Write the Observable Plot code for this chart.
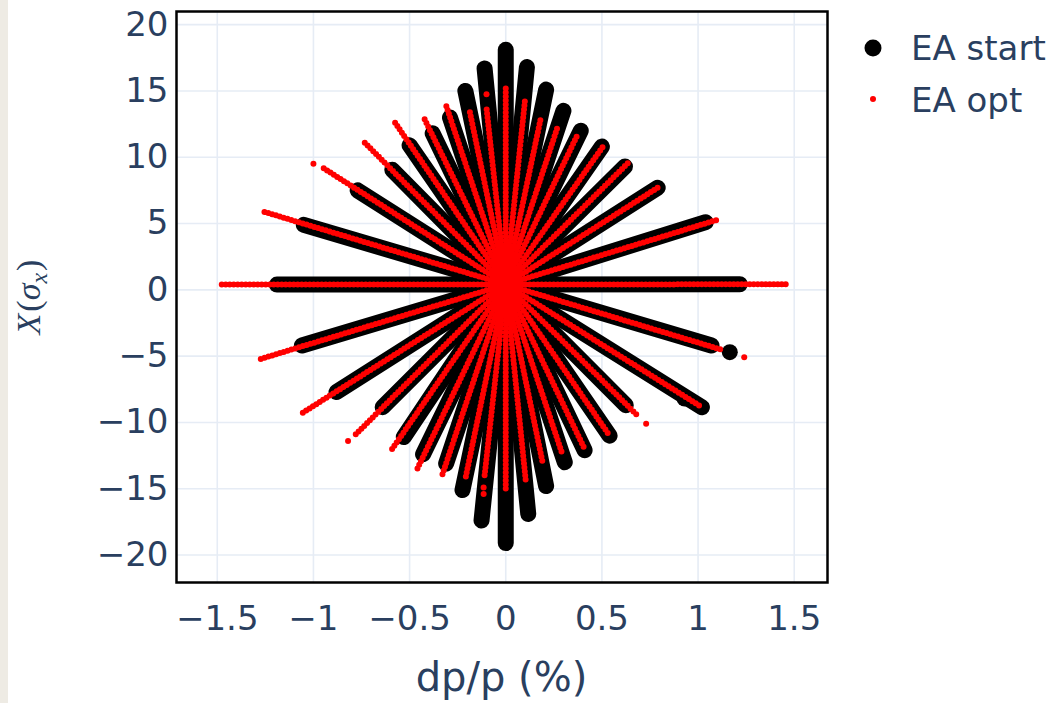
<!DOCTYPE html>
<html><head><meta charset="utf-8">
<script src="https://cdn.jsdelivr.net/npm/d3@7"></script>
<script src="https://cdn.jsdelivr.net/npm/@observablehq/plot@0.6"></script>
<style>
html,body{margin:0;padding:0;background:#fff;}
#strip{position:absolute;left:0;top:0;width:8px;height:703px;background:#EEEBE4;}
#chart{position:absolute;left:0;top:0;}
</style></head><body>
<div id="strip"></div><div id="chart"></div>
<script>
// Ray tips (dp/p in %, X in sigma_x), ordered: upper half left->right, then lower half left->right
const startDp = [-1.19,-1.05,-0.77,-0.59,-0.50,-0.38,-0.29,-0.21,-0.11,0,0.11,0.21,0.30,0.39,0.50,0.62,0.79,1.04,1.217,
                 -1.06,-0.88,-0.64,-0.53,-0.43,-0.31,-0.225,-0.126,0,0.117,0.21,0.307,0.41,0.54,0.624,1.02,1.07];
const startX  = [0.4,4.9,7.5,9.05,10.9,11.8,13.0,15.0,16.7,18.1,16.8,15.1,13.5,12.0,10.8,9.3,7.7,5.1,0.42,
                 -4.2,-7.7,-8.85,-11.1,-12.4,-13.1,-15.1,-17.4,-19.1,-16.9,-14.8,-13.0,-12.1,-11.0,-8.7,-8.85,-4.2];
const optDp   = [-1.49,-1.26,-0.95,-0.74,-0.58,-0.43,-0.31,-0.19,-0.10,0,0.10,0.18,0.27,0.37,0.51,0.645,0.79,1.10,1.468,
                 -1.29,-1.07,-0.78,-0.60,-0.46,-0.33,-0.21,-0.11,0,0.104,0.19,0.29,0.41,0.54,0.69,1.02,1.13];
const optX    = [0.4,5.9,9.2,11.2,12.7,13.1,13.9,13.65,13.7,15.2,14.3,12.8,12.3,11.6,10.9,9.7,7.7,5.28,0.42,
                 -5.28,-9.4,-10.9,-12.2,-13.5,-13.95,-14.25,-14.0,-15.2,-14.4,-12.9,-12.2,-12.0,-11.0,-9.55,-8.85,-4.55];
const centerDp = 0, centerX = 0.4;
// isolated particles detached from their rays
const startExtraDp = [1.165, 0.93];
const startExtraX  = [-4.7, -8.2];
const optExtraDp = [-1.0, -0.10, -0.82, -0.115, -0.115, 0.73, 1.24];
const optExtraX  = [9.5, 14.75, -11.4, -14.9, -15.4, -10.1, -5.08];
const xTicks = [-1.5,-1,-0.5,0,0.5,1,1.5];
const yTicks = [-20,-15,-10,-5,0,5,10,15,20];
const legendLabels = ["EA start","EA opt"];
const xLabel = "dp/p (%)";

const startRays = startDp.map((dp,i)=>({dp, x:startX[i]}));
const optRays = optDp.map((dp,i)=>({dp, x:optX[i]}));
const startExtra = startExtraDp.map((dp,i)=>({dp, x:startExtraX[i]}));
const optExtra = optExtraDp.map((dp,i)=>({dp, x:optExtraX[i]}));

const W = 1058, H = 703;
const textColor = "#2a3f5f";
const fmt = d3.format("~g");
const chart = Plot.plot({
  width: W, height: H,
  marginLeft: 176, marginRight: 231, marginTop: 11, marginBottom: 121,
  style: {fontFamily: "'DejaVu Sans', Verdana, sans-serif", color: textColor, background: "transparent"},
  x: {domain: [-1.712, 1.673]},
  y: {domain: [-22.07, 20.99]},
  marks: [
    Plot.gridX(xTicks, {stroke: "#E6ECF5", strokeOpacity: 1, strokeWidth: 1.6}),
    Plot.gridY(yTicks, {stroke: "#E6ECF5", strokeOpacity: 1, strokeWidth: 1.6}),
    Plot.link(startRays, {x1: () => centerDp, y1: () => centerX, x2: "dp", y2: "x",
      stroke: "black", strokeWidth: 16, strokeLinecap: "round"}),
    Plot.dot(startExtra, {x: "dp", y: "x", r: 8, fill: "black"}),
    Plot.link(optRays, {x1: () => centerDp, y1: () => centerX, x2: "dp", y2: "x",
      stroke: "#ff0000", strokeWidth: 6, strokeLinecap: "round", strokeDasharray: "0 4"}),
    Plot.dot(optExtra, {x: "dp", y: "x", r: 3, fill: "#ff0000"}),
    Plot.frame({stroke: "black", strokeWidth: 2.5}),
    Plot.axisX(xTicks, {tickSize: 0, tickPadding: 23, fontSize: 34, label: null, tickFormat: fmt}),
    Plot.axisY(yTicks, {tickSize: 0, tickPadding: 8, fontSize: 34, label: null, tickFormat: fmt})
  ]
});
document.getElementById("chart").appendChild(chart);

const svg = d3.select(chart);
// x axis title
svg.append("text").attr("x", 501.5).attr("y", 691).attr("text-anchor", "middle")
  .attr("font-size", 40).attr("fill", textColor).attr("font-family", "'DejaVu Sans', Verdana, sans-serif")
  .text(xLabel);
// y axis title X(σ_x)
const yl = svg.append("text").attr("transform", "translate(40,297) rotate(-90)")
  .attr("text-anchor", "middle").attr("font-size", 34).attr("fill", textColor)
  .attr("font-family", "'Liberation Serif', 'DejaVu Serif', serif").attr("font-style", "italic");
yl.append("tspan").text("X");
yl.append("tspan").attr("font-style", "normal").attr("dx", 2).text("(");
yl.append("tspan").text("σ");
yl.append("tspan").attr("font-size", 24).attr("dy", 7).text("x");
yl.append("tspan").attr("font-style", "normal").attr("dy", -7).attr("dx", 2).text(")");
// legend
const lg = svg.append("g").attr("font-family", "'DejaVu Sans', Verdana, sans-serif").attr("font-size", 34)
  .attr("fill", textColor).attr("text-anchor", "start");
lg.append("circle").attr("cx", 873).attr("cy", 48).attr("r", 8.5).attr("fill", "black");
lg.append("text").attr("x", 911).attr("y", 48).attr("dy", "0.36em").text(legendLabels[0]);
lg.append("circle").attr("cx", 873).attr("cy", 99).attr("r", 3).attr("fill", "#ff0000");
lg.append("text").attr("x", 911).attr("y", 100).attr("dy", "0.36em").text(legendLabels[1]);
</script>
</body></html>
